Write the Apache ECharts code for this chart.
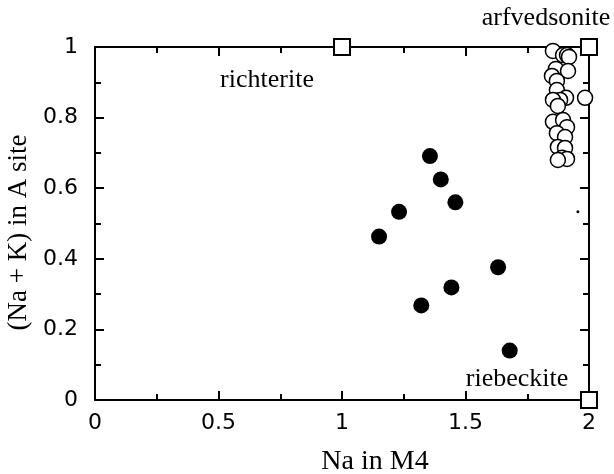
<!DOCTYPE html>
<html><head><meta charset="utf-8">
<script src="https://cdn.jsdelivr.net/npm/echarts@6/dist/echarts.min.js"></script>
<style>html,body{margin:0;padding:0;background:#fff}#c{width:614px;height:474px}</style>
</head><body><div id="c"></div>
<script>
// Filled circles: [Na in M4, (Na+K) in A site]
const filledX = [1.356, 1.400, 1.459, 1.231, 1.150, 1.632, 1.443, 1.321, 1.679];
const filledY = [0.691, 0.625, 0.560, 0.533, 0.463, 0.376, 0.319, 0.268, 0.140];
// Open circles
const openX = [1.854, 1.895, 1.911, 1.919, 1.866, 1.915, 1.850, 1.870, 1.870, 1.907, 1.883, 1.854, 1.984, 1.874, 1.854, 1.895, 1.911, 1.870, 1.903, 1.874, 1.903, 1.891, 1.911, 1.874];
const openY = [0.989, 0.977, 0.977, 0.972, 0.938, 0.932, 0.918, 0.904, 0.878, 0.856, 0.850, 0.850, 0.856, 0.833, 0.788, 0.793, 0.773, 0.756, 0.745, 0.717, 0.714, 0.686, 0.683, 0.680];
// Stray dot
const dotX = [1.955];
const dotY = [0.533];
// End-members
const endNames = ["richterite", "arfvedsonite", "riebeckite"];
const endX = [1, 2, 2];
const endY = [1, 1, 0];
// Axis
const xName = "Na in M4";
const yName = "(Na + K) in A site";

const labelOffsets = { richterite: [-75, 33], arfvedsonite: [-43, -29], riebeckite: [-72, -21] };
const zip = (a, b) => a.map((v, i) => [v, b[i]]);

const serif = '"Liberation Serif", "DejaVu Serif", serif';
const sans = '"DejaVu Sans", "Liberation Sans", sans-serif';

const baseAxis = {
  min: 0, max: 1,
  axisLine: { show: true, onZero: false, lineStyle: { color: '#000', width: 2 } },
  axisTick: { show: true, inside: true, length: 9, lineStyle: { color: '#000', width: 2 } },
  minorTick: { show: true, splitNumber: 2, length: 6, lineStyle: { color: '#000', width: 2 } },
  splitLine: { show: false },
  minorSplitLine: { show: false }
};

const option = {
  animation: false,
  backgroundColor: '#fff',
  grid: { left: 95, right: 25, top: 47, bottom: 74, containLabel: false, outerBoundsMode: 'none' },
  xAxis: [
    Object.assign({}, baseAxis, {
      type: 'value', min: 0, max: 2, interval: 0.5, position: 'bottom',
      name: xName, nameLocation: 'middle', nameGap: 48,
      nameTextStyle: { fontFamily: serif, fontSize: 28, color: '#000', padding: [0, 0, 0, 66] },
      axisLabel: { show: true, color: '#000', fontFamily: sans, fontSize: 22, margin: 12,
        formatter: v => String(v) }
    }),
    Object.assign({}, baseAxis, {
      type: 'value', min: 0, max: 2, interval: 0.5, position: 'top',
      axisLabel: { show: false }
    })
  ],
  yAxis: [
    Object.assign({}, baseAxis, {
      type: 'value', min: 0, max: 1, interval: 0.2, position: 'left',
      name: yName, nameLocation: 'middle', nameGap: 46, nameRotate: 90,
      nameTextStyle: { fontFamily: serif, fontSize: 27, color: '#000', padding: [0, 18, 0, 0] },
      axisLabel: { show: true, color: '#000', fontFamily: sans, fontSize: 22, margin: 17,
        formatter: v => String(v) }
    }),
    Object.assign({}, baseAxis, {
      type: 'value', min: 0, max: 1, interval: 0.2, position: 'right',
      axisLabel: { show: false }
    })
  ],
  series: [
    {
      type: 'scatter', data: zip(filledX, filledY), symbol: 'circle', symbolSize: 16,
      itemStyle: { color: '#000', opacity: 1 }, z: 3
    },
    {
      type: 'scatter', data: zip(openX, openY), symbol: 'circle', symbolSize: 15,
      itemStyle: { color: '#fff', borderColor: '#000', borderWidth: 1.5, opacity: 1 }, z: 3
    },
    {
      type: 'scatter', data: zip(dotX, dotY), symbol: 'circle', symbolSize: 3,
      itemStyle: { color: '#000', opacity: 1 }, z: 3
    },
    {
      type: 'scatter', symbol: 'rect', symbolSize: 16,
      itemStyle: { color: '#fff', borderColor: '#000', borderWidth: 2, opacity: 1 }, z: 5,
      data: endNames.map((n, i) => ({
        value: [endX[i], endY[i]], name: n,
        label: { show: true, formatter: n, position: 'inside', offset: labelOffsets[n],
          color: '#000', fontFamily: serif, fontSize: 26 }
      }))
    }
  ]
};

const chart = echarts.init(document.getElementById('c'), null, { renderer: 'canvas' });
chart.setOption(option);
</script>
</body></html>
